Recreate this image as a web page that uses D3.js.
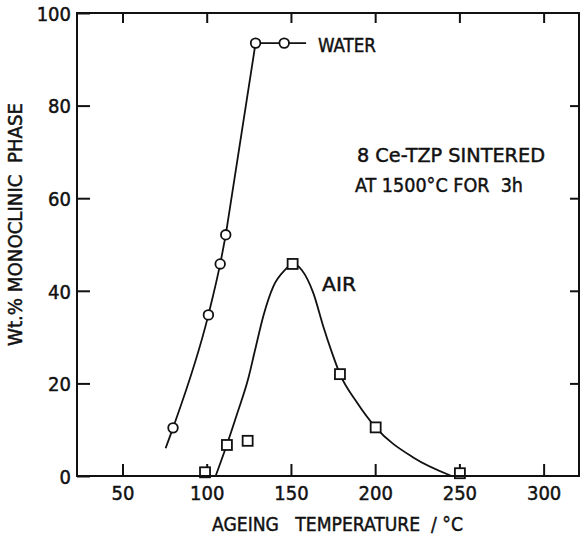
<!DOCTYPE html>
<html>
<head>
<meta charset="utf-8">
<script src="https://cdn.jsdelivr.net/npm/d3@7"></script>
<style>
  html, body { margin: 0; padding: 0; background: #fff; }
  svg { display: block; }
  text { font-family: "DejaVu Sans Condensed", "DejaVu Sans", sans-serif; font-stretch: condensed; fill: #111; stroke: #111; stroke-width: 0.45; white-space: pre; }
</style>
</head>
<body>
<svg id="chart" width="580" height="537"></svg>
<script>
// Tick values
const xTicks = [50, 100, 150, 200, 250, 300];
const yTicks = [0, 20, 40, 60, 80, 100];

// Measured points: ageing in water
const waterTemp = [80, 101, 108, 111.3, 129, 146];
const waterPct  = [10.4, 34.8, 45.8, 52.1, 93.5, 93.5];

// Measured points: ageing in air
const airTemp = [99, 112, 124.3, 151, 179.1, 200.3, 250.3];
const airPct  = [0.8, 6.7, 7.6, 45.8, 22, 10.5, 0.6];

// Hand-drawn guide curve through the water points (smooth lower part, straight upper part)
const waterFitTemp = [75.6, 80, 101, 108, 111.3];
const waterFitPct  = [6, 10.4, 34.8, 45.8, 52.1];
const waterLineTemp = [111.3, 129, 146, 159];
const waterLinePct  = [52.1, 93.5, 93.5, 93.5];

// Hand-drawn guide curve through the air points
const airFitTemp = [105.3, 111.9, 118.1, 124.7, 128.7, 133.5, 139.5, 146.5, 151, 156.4, 163.3, 169.2, 174.2, 179.1, 189, 200.3, 222.6, 245.4];
const airFitPct  = [0, 6.7, 13.5, 21.1, 27.2, 34.4, 40.9, 44.5, 45.8, 44.5, 39.5, 32.3, 26.8, 22, 16, 10.5, 4, 0];

const svg = d3.select("#chart");
const ink = "#111";
const fontStack = '"DejaVu Sans Condensed", "DejaVu Sans", sans-serif';

const x = d3.scaleLinear().domain([23, 321]).range([77, 579]);
const y = d3.scaleLinear().domain([0, 100]).range([476, 13]);

// Frame
svg.append("rect")
  .attr("x", x(23)).attr("y", y(100))
  .attr("width", x(321) - x(23)).attr("height", y(0) - y(100))
  .attr("fill", "none").attr("stroke", ink).attr("stroke-width", 2);

// Axes with inward ticks
const tickFont = 20;
const axBottom = svg.append("g").attr("transform", `translate(0,${y(0)})`)
  .call(d3.axisBottom(x).tickValues(xTicks).tickSizeInner(-12).tickSizeOuter(0));
const axTop = svg.append("g").attr("transform", `translate(0,${y(100)})`)
  .call(d3.axisTop(x).tickValues(xTicks).tickSizeInner(-10).tickSizeOuter(0).tickFormat(""));
const axLeft = svg.append("g").attr("transform", `translate(${x(23)},0)`)
  .call(d3.axisLeft(y).tickValues(yTicks).tickSizeInner(-13).tickSizeOuter(0));
const axRight = svg.append("g").attr("transform", `translate(${x(321)},0)`)
  .call(d3.axisRight(y).tickValues(yTicks.filter(v => v > 0 && v < 100)).tickSizeInner(-9).tickSizeOuter(0).tickFormat(""));

[axBottom, axTop, axLeft, axRight].forEach(g => {
  g.select(".domain").remove();
  g.selectAll(".tick line").attr("stroke", ink).attr("stroke-width", 2);
  g.selectAll(".tick text").attr("font-size", tickFont).attr("fill", ink)
    .attr("font-family", fontStack);
});
axLeft.selectAll(".tick text").attr("x", -6).attr("dy", "0.36em");
axBottom.selectAll(".tick text").attr("y", 10).attr("dy", "0.71em");

// Guide curves
const line = d3.line().x(d => x(d[0])).y(d => y(d[1]));
svg.append("path")
  .datum(d3.zip(waterFitTemp, waterFitPct))
  .attr("d", line.curve(d3.curveMonotoneX))
  .attr("fill", "none").attr("stroke", ink).attr("stroke-width", 1.8);
svg.append("path")
  .datum(d3.zip(waterLineTemp, waterLinePct))
  .attr("d", line.curve(d3.curveLinear))
  .attr("fill", "none").attr("stroke", ink).attr("stroke-width", 1.8);
svg.append("path")
  .datum(d3.zip(airFitTemp, airFitPct))
  .attr("d", line.curve(d3.curveMonotoneX))
  .attr("fill", "none").attr("stroke", ink).attr("stroke-width", 1.8);

// Markers
svg.append("g").selectAll("circle")
  .data(d3.zip(waterTemp, waterPct))
  .join("circle")
  .attr("cx", d => x(d[0])).attr("cy", d => y(d[1])).attr("r", 4.8)
  .attr("fill", "#fff").attr("stroke", ink).attr("stroke-width", 1.8);

const sq = 10;
svg.append("g").selectAll("rect")
  .data(d3.zip(airTemp, airPct))
  .join("rect")
  .attr("x", d => x(d[0]) - sq / 2).attr("y", d => y(d[1]) - sq / 2)
  .attr("width", sq).attr("height", sq)
  .attr("fill", "#fff").attr("stroke", ink).attr("stroke-width", 1.8);

// Redraw the baseline over the markers sitting on it
svg.append("line")
  .attr("x1", x(23)).attr("x2", x(321)).attr("y1", y(0)).attr("y2", y(0))
  .attr("stroke", ink).attr("stroke-width", 2);

// Labels
function label(txt, px, py, len, size) {
  return svg.append("text").attr("x", px).attr("y", py)
    .attr("font-size", size || 20)
    .attr("textLength", len).attr("lengthAdjust", "spacingAndGlyphs")
    .text(txt);
}
label("WATER", 318, 52, 58);
label("AIR", 322, 291, 34);
label("8 Ce-TZP SINTERED", 357, 162, 188);
label("AT 1500°C FOR  3h", 355, 192, 168);
label("AGEING   TEMPERATURE  / °C", 212, 531, 251);

svg.append("text")
  .attr("transform", "translate(22,346) rotate(-90)")
  .attr("font-size", 20)
  .attr("textLength", 243).attr("lengthAdjust", "spacingAndGlyphs")
  .text("Wt.% MONOCLINIC  PHASE");
</script>
</body>
</html>
